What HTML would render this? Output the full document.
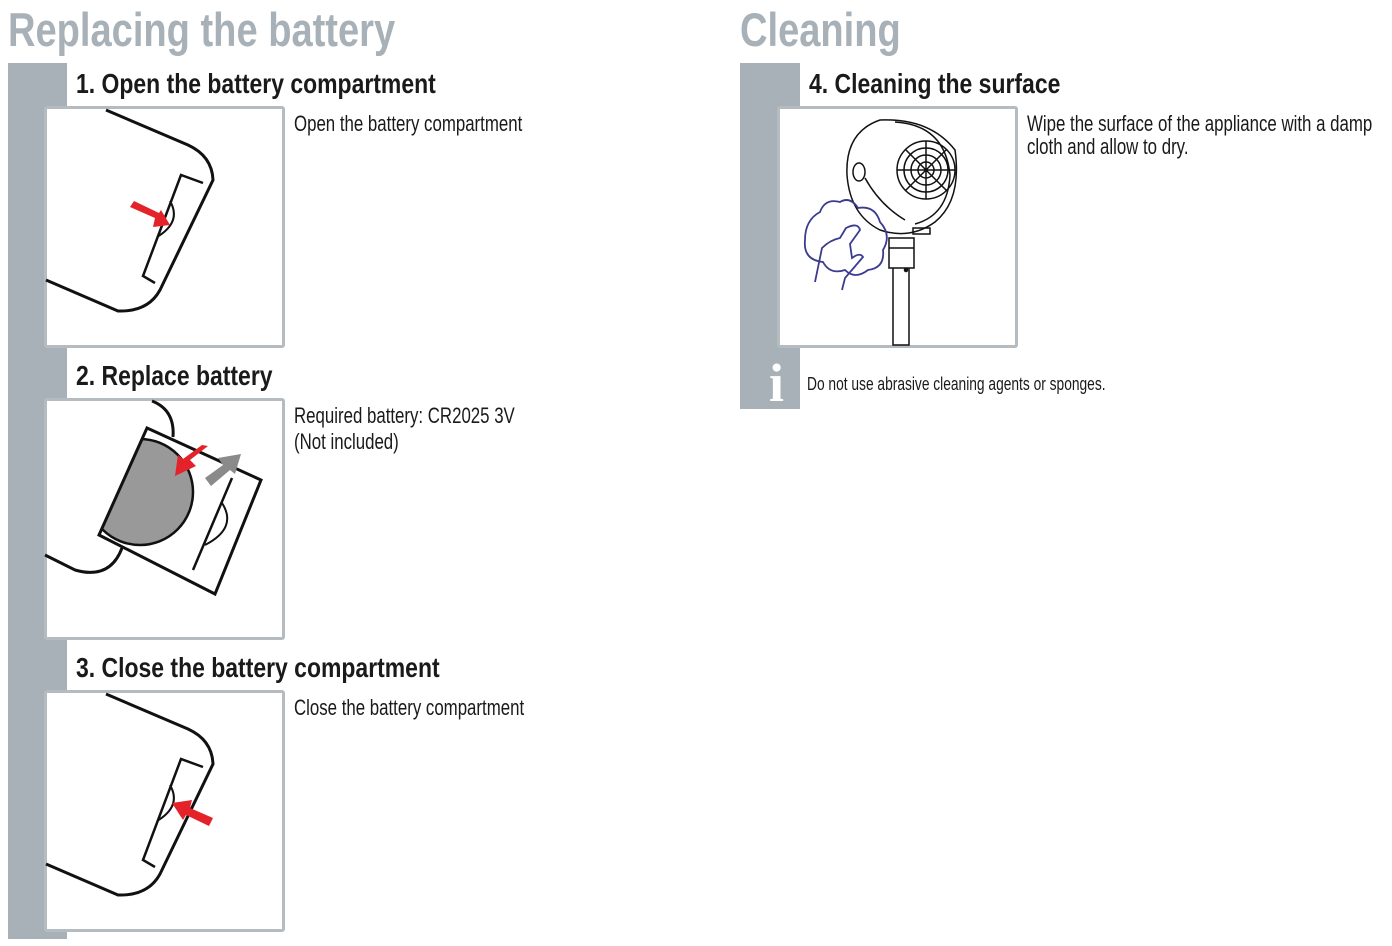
<!DOCTYPE html>
<html><head><meta charset="utf-8"><style>
body{margin:0;width:1392px;height:946px;background:#fff;position:relative;overflow:hidden;font-family:"Liberation Sans",sans-serif}
.t{position:absolute;white-space:nowrap;transform-origin:0 0}
.big{font-weight:bold;font-size:47px;color:#a7b1b7;transform:scaleX(0.81)}
.h{font-weight:bold;font-size:28px;color:#1a1a1a;transform:scaleX(0.82)}
.b{font-size:22px;color:#1a1a1a;transform:scaleX(0.765);line-height:23px}
.s{font-size:18px;color:#1a1a1a;transform:scaleX(0.765)}
.bar{position:absolute;background:#a7b1b7}
.box{position:absolute;background:#fff;border:3px solid #b4bcc1;border-radius:3px;box-sizing:border-box}
</style></head><body>
<div class="t big" style="left:8px;top:2px">Replacing the battery</div>
<div class="t big" style="left:740px;top:2px">Cleaning</div>
<div class="bar" style="left:8px;top:63px;width:59px;height:876px"></div>
<div class="bar" style="left:740px;top:63px;width:60px;height:346px"></div>
<div class="box" style="left:44px;top:106px;width:241px;height:242px"></div>
<div class="box" style="left:44px;top:398px;width:241px;height:242px"></div>
<div class="box" style="left:44px;top:690px;width:241px;height:242px"></div>
<div class="box" style="left:777px;top:106px;width:241px;height:242px"></div>
<div class="t h" style="left:76px;top:68px">1. Open the battery compartment</div>
<div class="t h" style="left:76px;top:360px">2. Replace battery</div>
<div class="t h" style="left:76px;top:652px">3. Close the battery compartment</div>
<div class="t h" style="left:809px;top:68px">4. Cleaning the surface</div>
<div class="t b" style="left:294px;top:112px">Open the battery compartment</div>
<div class="t b" style="left:294px;top:404px">Required battery: CR2025 3V<br><span style="line-height:30px">(Not included)</span></div>
<div class="t b" style="left:294px;top:696px">Close the battery compartment</div>
<div class="t b" style="left:1027px;top:112px">Wipe the surface of the appliance with a damp<br>cloth and allow to dry.</div>
<div class="t s" style="left:807px;top:374px">Do not use abrasive cleaning agents or sponges.</div>
<div class="t" style="left:769px;top:352px;font-family:'Liberation Serif',serif;font-weight:bold;font-size:54px;color:#fff">i</div>
<svg width="1392" height="946" style="position:absolute;left:0;top:0" fill="none" stroke="#111" stroke-width="3">
<!-- box1 -->
<path d="M106,110 L188,145 Q212,156 213,180 L160,290 Q148,312 118,311 L46,280"/>
<path d="M203,183 L181,175 L143,276 L155,283" stroke-width="2.5"/>
<path d="M170,201 Q182,222 157,237" stroke-width="2"/>
<path d="M130,207 L155,218 L153,227 L170,225 L161,210 L159,213 L134,201Z" fill="#e3222a" stroke="none"/>
<!-- box2 -->
<path d="M152,401 Q175,410 173,437"/>
<clipPath id="tr"><polygon points="147,428 261,480 215,594 99,535"/></clipPath>
<circle cx="140" cy="492" r="53" fill="#999" stroke-width="2.5" clip-path="url(#tr)"/>
<polygon points="147,428 261,480 215,594 99,535" stroke-width="3"/>
<path d="M45,555 L75,570 Q110,580 122,548"/>
<path d="M193,570 L232,478" stroke-width="2.5"/>
<path d="M222,503 Q238,528 205,545" stroke-width="2"/>
<path d="M208,446 L190,460 L196,466 L175,476 L178,455 L183,459 L202,445Z" fill="#e3222a" stroke="none"/>
<path d="M205,478 L223,465 L218,458 L241,454 L235,474 L230,470 L211,486Z" fill="#8a8a8a" stroke="none"/>
<!-- box3 -->
<path d="M106,694 L188,729 Q212,740 213,764 L160,874 Q148,896 118,895 L46,864"/>
<path d="M203,767 L181,759 L143,860 L155,867" stroke-width="2.5"/>
<path d="M170,785 Q182,806 157,821" stroke-width="2"/>
<path d="M213,818 L190,808 L192,800 L172,803 L183,820 L186,815 L209,826Z" fill="#e3222a" stroke="none"/>
<!-- fan -->
<g stroke-width="1.5">
<path d="M880,120 Q930,118 955,150 Q962,200 935,222 Q910,240 880,230 Q850,215 847,175 Q845,132 880,120Z"/>
<path d="M895,122 Q945,125 950,175 Q948,215 915,224"/>
<circle cx="926" cy="170" r="29"/><circle cx="926" cy="170" r="22"/><circle cx="926" cy="170" r="15"/><circle cx="926" cy="170" r="8"/>
<path d="M926,141 V199 M897,170 H955 M905,149 L947,191 M947,149 L905,191"/>
<ellipse cx="859" cy="172" rx="6" ry="9"/>
<path d="M865,178 Q880,205 905,220"/>
<path d="M913,228 H930 V234 H913Z"/>
<path d="M889,238 H914 V268 H889Z M889,248 H914"/>
<path d="M893,268 V345 H909 V268"/>
<circle cx="906" cy="270" r="1.5" fill="#111"/>
</g>
<g stroke="#3b3b8f" stroke-width="1.8">
<path d="M820,212 Q825,198 840,202 Q850,196 858,208 Q875,205 880,222 Q892,235 883,250 Q885,268 868,270 Q855,280 845,270 Q830,275 823,262 Q803,260 805,240 Q805,220 820,212Z"/>
<path d="M815,282 L822,248 Q830,240 840,238 L846,228 Q858,222 860,230 L850,244 L852,258 Q860,252 863,257 L845,278 L842,290"/>
</g>
</svg>
</body></html>
